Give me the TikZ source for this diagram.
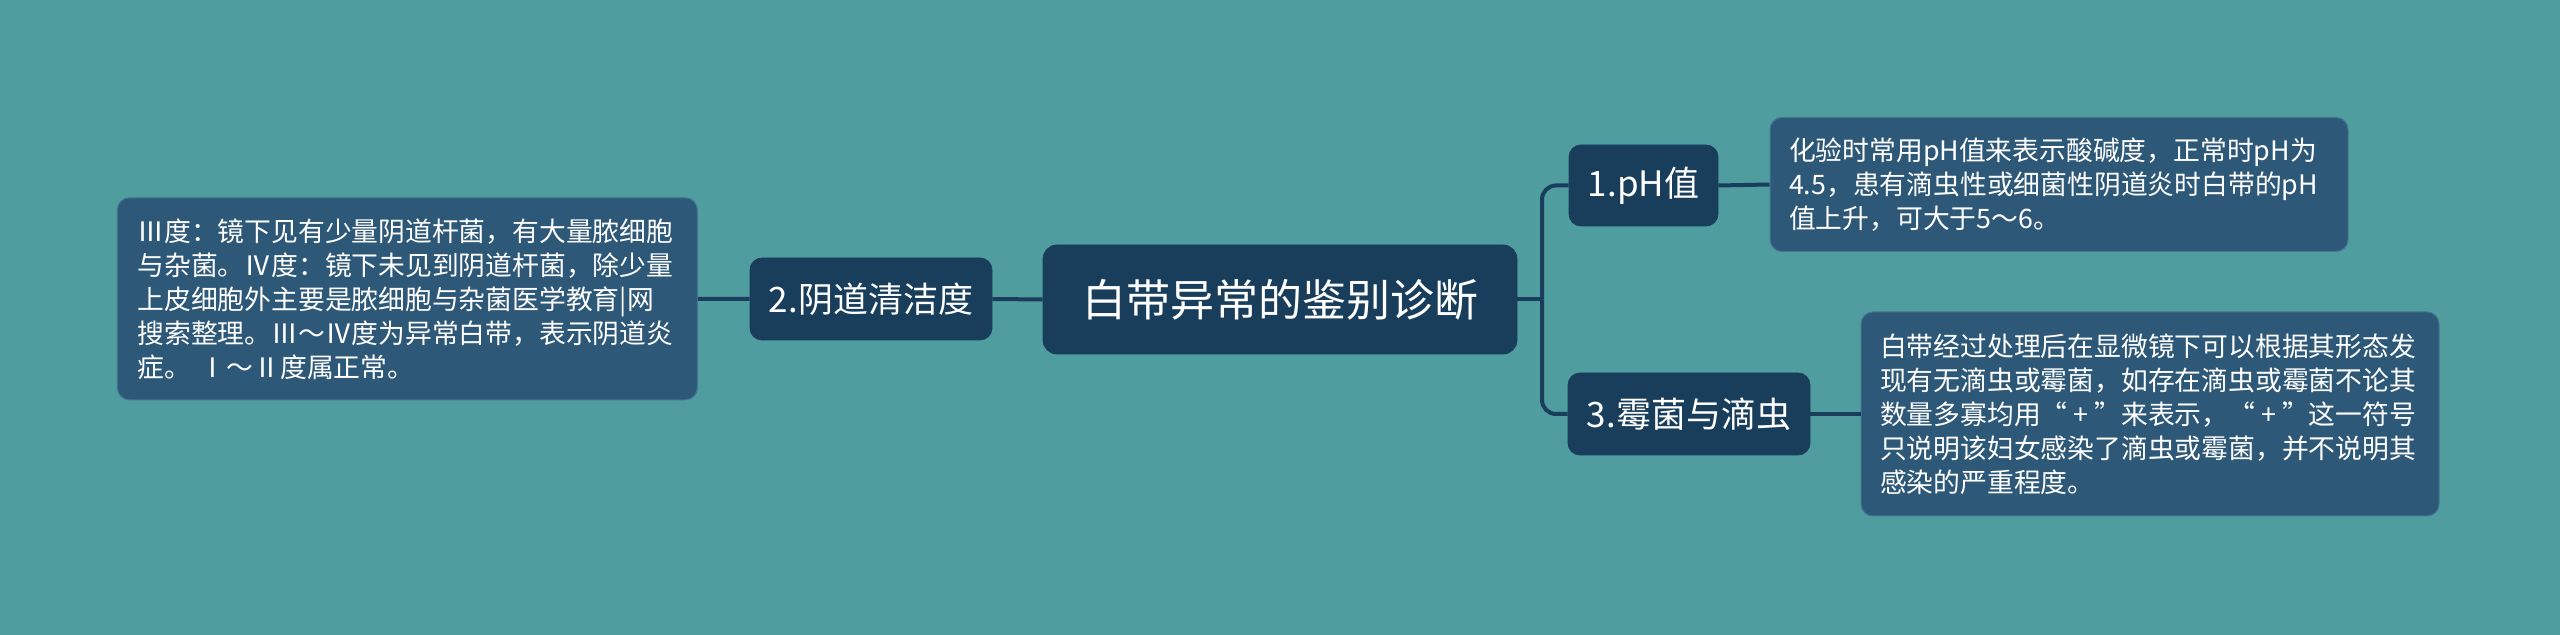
\documentclass[tikz,border=0pt]{standalone}
\usepackage{fontspec}
\setmainfont{Noto Sans CJK SC}
\definecolor{bgc}{RGB}{79,157,158}
\definecolor{nodec}{RGB}{25,62,92}
\definecolor{linec}{RGB}{26,61,93}
\definecolor{leafc}{RGB}{46,88,120}
\definecolor{leafb}{RGB}{70,115,148}
\newcommand{\myLq}{\makebox[1em][r]{“}}
\newcommand{\myRq}{\makebox[1em][l]{”}}
\newcommand{\myPlus}{\makebox[1em]{+}}
\tikzset{
  mainbox/.style={fill=nodec, draw=nodec, rounded corners=7pt, text=white, inner sep=0pt, align=center, font=\fontsize{22}{26}\selectfont},
  subbox/.style={fill=nodec, draw=nodec, rounded corners=6pt, text=white, inner sep=0pt, align=center, font=\fontsize{17.5}{21}\selectfont},
  leafbox/.style={fill=leafc, draw=leafb, line width=0.5pt, rounded corners=6pt, text=white, inner sep=0pt, align=left, text width=270pt, font=\fontsize{13.4}{17}\selectfont},
  conn/.style={draw=linec, line width=2pt},
}
\begin{document}
\begin{tikzpicture}[x=0.5pt,y=-0.5pt]
\fill[bgc] (0,0) rectangle (2560,635);
\useasboundingbox (0,0) rectangle (2560,635);

\node[mainbox, minimum width=237pt, minimum height=54.5pt] (c) at (1280,299.5) {白带异常的鉴别诊断};
\node[subbox, minimum width=121pt, minimum height=41pt] (n2) at (871,299) {2.阴道清洁度};
\node[subbox, minimum width=74.5pt, minimum height=40.5pt] (n1) at (1643.5,185.5) {1.pH值};
\node[subbox, minimum width=121pt, minimum height=41pt] (n3) at (1689,414) {3.霉菌与滴虫};

\node[leafbox, minimum width=290pt, minimum height=101pt] (l2) at (407.4,298.8) {Ⅲ度：镜下见有少量阴道杆菌，有大量脓细胞\\与杂菌。Ⅳ度：镜下未见到阴道杆菌，除少量\\上皮细胞外主要是脓细胞与杂菌医学教育|网\\搜索整理。Ⅲ～Ⅳ度为异常白带，表示阴道炎\\症。 Ⅰ～Ⅱ度属正常。};
\node[leafbox, minimum width=289pt, minimum height=67pt] (l1) at (2059,184.5) {化验时常用pH值来表示酸碱度，正常时pH为\\4.5，患有滴虫性或细菌性阴道炎时白带的pH\\值上升，可大于5～6。};
\node[leafbox, minimum width=289pt, minimum height=102pt] (l3) at (2150,414) {白带经过处理后在显微镜下可以根据其形态发\\现有无滴虫或霉菌，如存在滴虫或霉菌不论其\\数量多寡均用\myLq\myPlus\myRq 来表示，\myLq\myPlus\myRq 这一符号\\只说明该妇女感染了滴虫或霉菌，并不说明其\\感染的严重程度。};

\coordinate (j) at (1542,299.5);
\draw[conn] (c.east) -- (j);
\draw[conn, rounded corners=7pt] (j) |- (n1.west);
\draw[conn, rounded corners=7pt] (j) |- (n3.west);
\draw[conn] (c.west) -- (n2.east);
\draw[conn] (n2.west) -- (l2.east);
\draw[conn] (n1.east) -- (l1.west);
\draw[conn] (n3.east) -- (l3.west);
\end{tikzpicture}
\end{document}
